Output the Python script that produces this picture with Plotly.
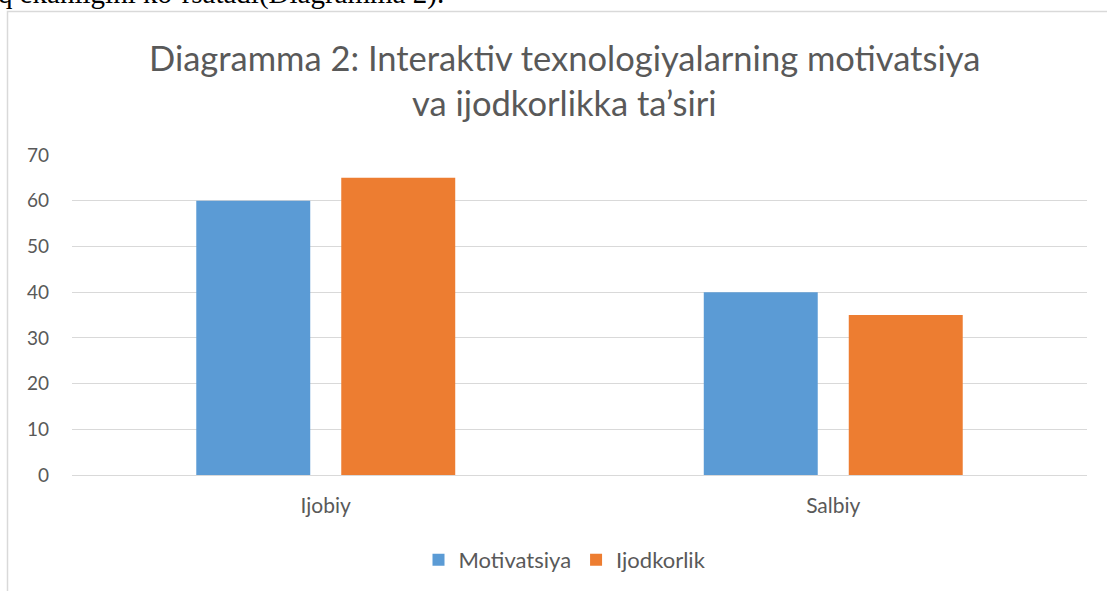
import plotly.graph_objects as go

categories = ["Ijobiy", "Salbiy"]
motivatsiya = [60, 40]
ijodkorlik = [65, 35]
y_ticks = [0, 10, 20, 30, 40, 50, 60, 70]

W, H = 1107, 591
ML, MR, MT, MB = 72, 20, 155, 116
PW = W - ML - MR
PH = H - MT - MB

def px(x):
    return (x - ML) / PW

def py(y):
    return (H - MB - y) / PH

fig = go.Figure()
fig.add_trace(go.Bar(x=categories, y=motivatsiya, name="Motivatsiya",
                     marker=dict(color="#5B9BD5", line=dict(width=0))))
fig.add_trace(go.Bar(x=categories, y=ijodkorlik, name="Ijodkorlik",
                     marker=dict(color="#ED7D31", line=dict(width=0))))

font_fam = "Lato, Open Sans, sans-serif"

fig.update_layout(
    width=W, height=H,
    margin=dict(l=ML, r=MR, t=MT, b=MB, autoexpand=False),
    paper_bgcolor="white", plot_bgcolor="white",
    barmode="group", bargap=0.4286, bargroupgap=0.214,
    font=dict(family=font_fam, color="#595959", size=16),
    showlegend=True,
    legend=dict(orientation="h", x=px(565), xanchor="center", y=py(560), yanchor="middle",
                font=dict(size=22, color="#595959", family=font_fam),
                traceorder="normal", bgcolor="rgba(0,0,0,0)"),
    xaxis=dict(showgrid=False, showline=False, zeroline=False, ticks="",
               tickfont=dict(size=21, color="#595959"), ticklabelstandoff=16),
    yaxis=dict(range=[0, 70], tickvals=y_ticks, showgrid=True, gridcolor="#D9D9D9",
               gridwidth=1.3, zeroline=True, zerolinecolor="#D9D9D9", zerolinewidth=1.3,
               showline=False, ticks="", tickfont=dict(size=19, color="#595959"),
               ticklabelstandoff=22),
    shapes=[dict(type="rect", xref="paper", yref="paper",
                 x0=px(7.5), x1=px(1140), y0=py(640), y1=py(11.5),
                 line=dict(color="#D9D9D9", width=1.5), fillcolor="rgba(0,0,0,0)",
                 layer="below")],
    annotations=[
        dict(text="Diagramma 2: Interaktiv texnologiyalarning motivatsiya",
             xref="paper", yref="paper", x=px(564), y=py(58), xanchor="center", yanchor="middle",
             showarrow=False, font=dict(size=34.5, color="#595959", family=font_fam)),
        dict(text="va ijodkorlikka ta\u2019siri",
             xref="paper", yref="paper", x=px(564), y=py(103), xanchor="center", yanchor="middle",
             showarrow=False, font=dict(size=34.5, color="#595959", family=font_fam)),
        dict(text="q ekanligini ko\u2019rsatadi(Diagramma 2).",
             xref="paper", yref="paper", x=px(-4), y=py(12), xanchor="left", yanchor="bottom",
             showarrow=False, font=dict(size=29, color="black", family="Liberation Serif, serif")),
    ],
)

fig.write_html("out.html", config={"displayModeBar": False},
               post_script="document.body.style.margin='0';document.body.style.overflow='hidden';")
